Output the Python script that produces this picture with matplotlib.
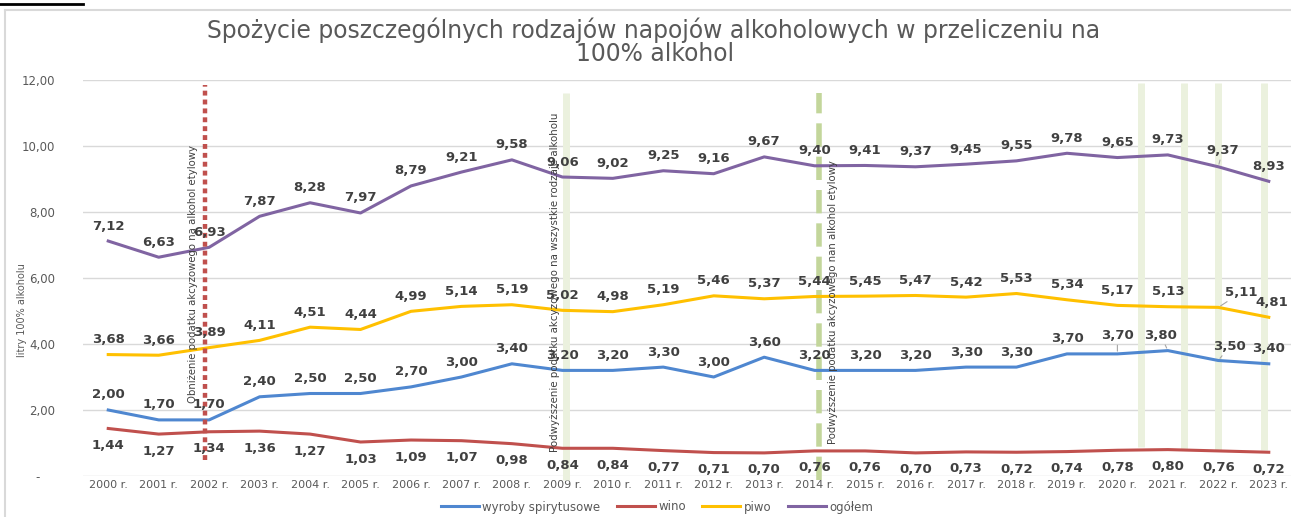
import matplotlib
matplotlib.use('Agg')
import matplotlib.pyplot as plt
from matplotlib.lines import Line2D

years = list(range(2000, 2024))
year_labels = [f'{y} r.' for y in years]
spirits = [2.00, 1.70, 1.70, 2.40, 2.50, 2.50, 2.70, 3.00, 3.40, 3.20, 3.20, 3.30,
           3.00, 3.60, 3.20, 3.20, 3.20, 3.30, 3.30, 3.70, 3.70, 3.80, 3.50, 3.40]
wine = [1.44, 1.27, 1.34, 1.36, 1.27, 1.03, 1.09, 1.07, 0.98, 0.84, 0.84, 0.77,
        0.71, 0.70, 0.76, 0.76, 0.70, 0.73, 0.72, 0.74, 0.78, 0.80, 0.76, 0.72]
beer = [3.68, 3.66, 3.89, 4.11, 4.51, 4.44, 4.99, 5.14, 5.19, 5.02, 4.98, 5.19,
        5.46, 5.37, 5.44, 5.45, 5.47, 5.42, 5.53, 5.34, 5.17, 5.13, 5.11, 4.81]
total = [7.12, 6.63, 6.93, 7.87, 8.28, 7.97, 8.79, 9.21, 9.58, 9.06, 9.02, 9.25,
         9.16, 9.67, 9.40, 9.41, 9.37, 9.45, 9.55, 9.78, 9.65, 9.73, 9.37, 8.93]
series_names = ['wyroby spirytusowe', 'wino', 'piwo', 'ogółem']

colors = {'spirits': '#4F87D0', 'wine': '#C0504D', 'beer': '#FFC000', 'total': '#8064A2'}

W, H = 1291, 517
fig = plt.figure(figsize=(W / 100, H / 100), dpi=100)
fig.patch.set_facecolor('white')
ax = fig.add_axes([83 / W, 41 / H, (1294 - 83) / W, 396 / H])
renderer = fig.canvas.get_renderer()


def fit(t, target, vertical=False):
    # scale font so the text spans the given number of pixels
    bb = t.get_window_extent(renderer)
    cur = bb.height if vertical else bb.width
    t.set_fontsize(t.get_fontsize() * target / cur)
    return t.get_fontsize()


x = list(range(len(years)))

# event markers (vertical lines)
for xv, y0 in [(20.46, 0.88), (21.32, 0.79), (21.99, 0.79), (22.9, 0.79)]:
    ax.plot([xv, xv], [y0, 11.9], color='#EBF1DE', lw=5, zorder=1, solid_capstyle='butt')
ax.plot([9.07, 9.07], [-0.12, 11.6], color='#EBF1DE', lw=5, zorder=1, clip_on=False,
        solid_capstyle='butt')
ax.plot([14.08, 14.08], [-0.12, 11.6], color='#C3D69B', lw=4, zorder=1, clip_on=False,
        dashes=(4.2, 1.8), dash_capstyle='butt')

ax.plot(x, spirits, color=colors['spirits'], lw=2.2, zorder=3)
ax.plot(x, wine, color=colors['wine'], lw=2.2, zorder=3)
ax.plot(x, beer, color=colors['beer'], lw=2.2, zorder=3)
ax.plot(x, total, color=colors['total'], lw=2.2, zorder=3)

ax.plot([1.92, 1.92], [0.48, 11.85], color='#C0504D', lw=3.2, zorder=4,
        dashes=(1.1, 0.9), dash_capstyle='butt')

# rotated notes
note_kw = dict(rotation=90, ha='center', va='center', color='#404040', fontsize=8, zorder=5)
n1 = ax.text(1.68, 6.12, 'Obniżenie podatku akcyzowego na alkohol etylowy', **note_kw)
n2 = ax.text(8.86, 5.86, 'Podwyższenie podatku akcyzowego na wszystkie rodzaje alkoholu', **note_kw)
n3 = ax.text(14.36, 5.26, 'Podwyższenie podatku akcyzowego nan alkohol etylowy', **note_kw)
fit(n1, 258, vertical=True)
fit(n2, 339, vertical=True)
fit(n3, 285, vertical=True)

# data labels
special = {
    ('total', 22): (4, 16), ('beer', 22): (23, 15), ('spirits', 22): (11, 14),
    ('spirits', 21): (-7, 15), ('spirits', 20): (0, 18), ('beer', 23): (3, 15),
}
leader = {('total', 22), ('beer', 22), ('spirits', 22), ('spirits', 21), ('spirits', 20)}


def add_labels(name, vals, dy):
    for i, v in enumerate(vals):
        off = special.get((name, i), (0, dy))
        kw = {}
        if (name, i) in leader:
            kw['arrowprops'] = dict(arrowstyle='-', color='#A6A6A6', lw=0.8, shrinkA=0, shrinkB=2)
        ax.annotate(f'{v:.2f}'.replace('.', ','), (i, v), xytext=off, textcoords='offset pixels',
                    ha='center', va='center', fontsize=9.5, fontweight='bold',
                    color='#404040', zorder=6, **kw)


add_labels('spirits', spirits, 15)
add_labels('wine', wine, -17)
add_labels('beer', beer, 15)
add_labels('total', total, 15)

ax.set_xlim(-0.5, 23.5)
ax.set_ylim(0, 12)
ax.set_yticks(range(0, 13, 2))
ax.set_yticklabels(['-    '] + [f'{v:.2f}'.replace('.', ',') for v in range(2, 13, 2)])
ax.set_xticks(x)
ax.set_xticklabels(year_labels, fontsize=8, color='#595959')
ax.tick_params(axis='y', length=0, pad=20, labelsize=8.5, labelcolor='#595959')
ax.tick_params(axis='x', length=0, pad=3)
ax.grid(axis='y', color='#D9D9D9', lw=1, zorder=0)
for s in ax.spines.values():
    s.set_visible(False)
ax.set_axisbelow(True)

yl = fig.text(22 / W, 1 - 310 / H, 'litry 100% alkoholu', rotation=90, ha='center', va='center',
              fontsize=8, color='#595959')
fit(yl, 94, vertical=True)

t1 = fig.text(654 / W, 1 - 30 / H,
              'Spożycie poszczególnych rodzajów napojów alkoholowych w przeliczeniu na',
              ha='center', va='center', fontsize=16, color='#595959')
fs = fit(t1, 900)
fig.text(655 / W, 1 - 54 / H, '100% alkohol', ha='center', va='center', fontsize=fs,
         color='#595959')

handles = [Line2D([], [], color=c, lw=2.2) for c in colors.values()]
fig.legend(handles, series_names, loc='center', bbox_to_anchor=(657 / W, 1 - 507 / H), ncol=4,
           frameon=False, fontsize=8.5, handlelength=3.2, handletextpad=0.3,
           columnspacing=1.4, labelcolor='#595959')

# frame and bar from the screenshot
fig.add_artist(Line2D([5 / W, 5 / W], [0, 1 - 10 / H], transform=fig.transFigure,
                      color='#D9D9D9', lw=1.5))
fig.add_artist(Line2D([5 / W, 1], [1 - 10 / H, 1 - 10 / H], transform=fig.transFigure,
                      color='#D9D9D9', lw=1.5))
fig.add_artist(Line2D([0, 83 / W], [1 - 3.5 / H, 1 - 3.5 / H], transform=fig.transFigure,
                      color='black', lw=2))

fig.savefig('out.png', dpi=100)
